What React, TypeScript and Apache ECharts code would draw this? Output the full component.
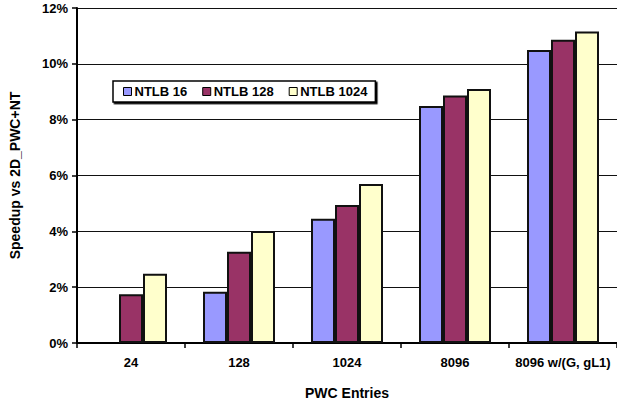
import React, { useEffect, useRef } from "react";
import * as echarts from "echarts";

const categories = ["24", "128", "1024", "8096", "8096 w/(G, gL1)"];
const seriesNames = ["NTLB 16", "NTLB 128", "NTLB 1024"];
const ntlb16 = [null, 1.84, 4.45, 8.49, 10.5];
const ntlb128 = [1.75, 3.27, 4.94, 8.87, 10.86];
const ntlb1024 = [2.48, 4.01, 5.7, 9.1, 11.16];
const colors = ["#9999FF", "#993366", "#FFFFCC"];

const FONT = "Liberation Sans, Arial, sans-serif";

export default function App() {
  const ref = useRef<HTMLDivElement>(null);
  useEffect(() => {
    const chart = echarts.init(ref.current!, null, { renderer: "svg" });
    const datasets = [ntlb16, ntlb128, ntlb1024];
    chart.setOption({
      animation: false,
      backgroundColor: "#ffffff",
      grid: { left: 71, top: 8, width: 547, height: 344, containLabel: false },
      legend: {
        left: 113,
        top: 81,
        orient: "horizontal",
        padding: [4, 8, 4, 10],
        itemGap: 15,
        itemWidth: 8,
        itemHeight: 8,
        icon: "rect",
        borderColor: "#000",
        borderWidth: 1.5,
        backgroundColor: "#fff",
        shadowColor: "#000",
        shadowOffsetX: 1.5,
        shadowOffsetY: 1.5,
        shadowBlur: 0,
        textStyle: { fontFamily: FONT, fontWeight: "bold", fontSize: 13, color: "#000", padding: [0, 0, 0, -2] },
        itemStyle: { borderColor: "#000", borderWidth: 1 },
        data: seriesNames,
      },
      xAxis: {
        type: "category",
        data: categories,
        name: "PWC Entries",
        nameLocation: "middle",
        nameGap: 43,
        nameTextStyle: { fontFamily: FONT, fontWeight: "bold", fontSize: 14, color: "#000" },
        axisLine: { lineStyle: { color: "#000", width: 2 } },
        axisTick: { show: true, length: 5, lineStyle: { color: "#000", width: 1.5 } },
        axisLabel: { interval: 0, fontFamily: FONT, fontWeight: "bold", fontSize: 13, color: "#000", margin: 13 },
        splitLine: { show: false },
      },
      yAxis: {
        type: "value",
        min: 0,
        max: 12,
        interval: 2,
        name: "Speedup vs 2D_PWC+NT",
        nameLocation: "middle",
        nameGap: 55,
        nameTextStyle: { fontFamily: FONT, fontWeight: "bold", fontSize: 14, color: "#000" },
        axisLine: { show: true, lineStyle: { color: "#000", width: 2 } },
        axisTick: { show: true, length: 5, lineStyle: { color: "#000", width: 1.5 } },
        axisLabel: { formatter: "{value}%", fontFamily: FONT, fontWeight: "bold", fontSize: 13, color: "#000", margin: 9 },
        splitLine: { show: true, lineStyle: { color: "#111", width: 1 } },
      },
      series: seriesNames.map((name, i) => ({
        name,
        type: "bar",
        data: datasets[i],
        barWidth: 24,
        barGap: "0%",
        itemStyle: { color: colors[i], borderColor: "#111", borderWidth: 2 },
      })),
    });
    return () => chart.dispose();
  }, []);
  return (
    <div
      ref={ref}
      style={{ position: "fixed", left: 0, top: 0, width: 617, height: 405, background: "#fff" }}
    />
  );
}
